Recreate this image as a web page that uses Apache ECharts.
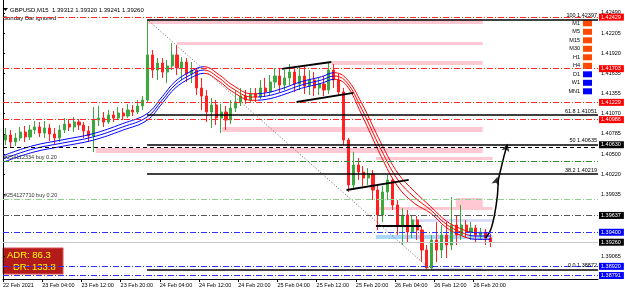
<!DOCTYPE html>
<html>
<head>
<meta charset="utf-8">
<script src="https://cdn.jsdelivr.net/npm/echarts@6/dist/echarts.min.js"></script>
<style>
html,body{margin:0;padding:0;background:#fff;}
#chart{width:625px;height:291px;}
</style>
</head>
<body>
<div id="chart"></div>
<script>
// GBPUSD M15, shown as hourly candles. x = hours since 22 Feb 20:00
var opens = [
  1.40699, 1.40769, 1.40671, 1.40727, 1.40811, 1.40741, 1.40840, 1.40882, 1.40797, 1.40868,
  1.40783, 1.40727, 1.40840, 1.40924, 1.40882, 1.40952, 1.40910, 1.40826, 1.40755, 1.40980,
  1.41009, 1.40952, 1.41051, 1.41009, 1.41079, 1.41037, 1.41121, 1.41093, 1.41178, 1.41262,
  1.41896, 1.41684, 1.41783, 1.41656, 1.41741, 1.41896, 1.41713, 1.41797, 1.41628, 1.41684,
  1.41431, 1.41318, 1.41093, 1.41192, 1.41009, 1.41093, 1.40980, 1.41149, 1.41234, 1.41318,
  1.41262, 1.41346, 1.41304, 1.41431, 1.41375, 1.41515, 1.41600, 1.41473, 1.41572, 1.41656,
  1.41487, 1.41600, 1.41459, 1.41544, 1.41431, 1.41487, 1.41403, 1.41684, 1.41544, 1.41375,
  1.40699, 1.40065, 1.40347, 1.40248, 1.40164, 1.40220, 1.39995, 1.39643, 1.39967, 1.40136,
  1.39784, 1.39502, 1.39643, 1.39403, 1.39572, 1.39432, 1.39150, 1.38897, 1.39291, 1.39150,
  1.39361, 1.39220, 1.39502, 1.39361, 1.39502, 1.39403, 1.39460, 1.39361, 1.39403, 1.39319
];
var closes = [
  1.40769, 1.40671, 1.40727, 1.40811, 1.40741, 1.40840, 1.40882, 1.40797, 1.40868, 1.40783,
  1.40727, 1.40840, 1.40924, 1.40882, 1.40952, 1.40910, 1.40826, 1.40755, 1.40980, 1.41009,
  1.40952, 1.41051, 1.41009, 1.41079, 1.41037, 1.41121, 1.41093, 1.41178, 1.41262, 1.41896,
  1.41684, 1.41783, 1.41656, 1.41741, 1.41896, 1.41713, 1.41797, 1.41628, 1.41684, 1.41431,
  1.41318, 1.41093, 1.41192, 1.41009, 1.41093, 1.40980, 1.41149, 1.41234, 1.41318, 1.41262,
  1.41346, 1.41304, 1.41431, 1.41375, 1.41515, 1.41600, 1.41473, 1.41572, 1.41656, 1.41487,
  1.41600, 1.41459, 1.41544, 1.41431, 1.41487, 1.41403, 1.41684, 1.41544, 1.41375, 1.40699,
  1.40065, 1.40347, 1.40248, 1.40164, 1.40220, 1.39995, 1.39643, 1.39967, 1.40136, 1.39784,
  1.39502, 1.39643, 1.39403, 1.39572, 1.39432, 1.39150, 1.38897, 1.39291, 1.39150, 1.39361,
  1.39220, 1.39502, 1.39361, 1.39502, 1.39403, 1.39460, 1.39361, 1.39403, 1.39319, 1.39260
];
var lows = [
  1.40628, 1.40586, 1.40614, 1.40685, 1.40671, 1.40699, 1.40783, 1.40741, 1.40727, 1.40685,
  1.40642, 1.40671, 1.40797, 1.40826, 1.40811, 1.40840, 1.40727, 1.40671, 1.40530, 1.40896,
  1.40882, 1.40924, 1.40952, 1.40980, 1.40980, 1.41009, 1.41037, 1.41065, 1.41121, 1.41234,
  1.41572, 1.41544, 1.41572, 1.41501, 1.41684, 1.41614, 1.41544, 1.41515, 1.41501, 1.41332,
  1.41121, 1.40952, 1.40868, 1.40910, 1.40797, 1.40840, 1.40924, 1.41093, 1.41178, 1.41206,
  1.41220, 1.41234, 1.41276, 1.41304, 1.41332, 1.41431, 1.41375, 1.41403, 1.41473, 1.41375,
  1.41403, 1.41346, 1.41332, 1.41318, 1.41332, 1.41318, 1.41346, 1.41431, 1.41318, 1.40628,
  1.39967, 1.39995, 1.40136, 1.40051, 1.40065, 1.39854, 1.39432, 1.39544, 1.39854, 1.39713,
  1.39361, 1.39220, 1.39249, 1.39319, 1.39291, 1.38981, 1.38883, 1.38872, 1.38981, 1.39037,
  1.39037, 1.39150, 1.39220, 1.39291, 1.39319, 1.39291, 1.39263, 1.39291, 1.39220, 1.39192
];
var highs = [
  1.40868, 1.40840, 1.40797, 1.40882, 1.40896, 1.40910, 1.40966, 1.40952, 1.40966, 1.40924,
  1.40868, 1.40910, 1.41009, 1.40995, 1.41023, 1.40995, 1.40952, 1.40896, 1.41163, 1.41178,
  1.41093, 1.41121, 1.41107, 1.41163, 1.41149, 1.41206, 1.41192, 1.41262, 1.41318, 1.42397,
  1.41966, 1.41853, 1.41853, 1.41825, 1.42065, 1.42036, 1.41867, 1.41853, 1.41797, 1.41713,
  1.41572, 1.41403, 1.41290, 1.41262, 1.41206, 1.41178, 1.41262, 1.41403, 1.41431, 1.41403,
  1.41431, 1.41431, 1.41544, 1.41572, 1.41614, 1.41713, 1.41713, 1.41684, 1.41769, 1.41741,
  1.41727, 1.41755, 1.41684, 1.41656, 1.41572, 1.41600, 1.41797, 1.41769, 1.41628, 1.41431,
  1.40727, 1.40530, 1.40445, 1.40333, 1.40305, 1.40276, 1.40051, 1.40051, 1.40206, 1.40164,
  1.39854, 1.39741, 1.39713, 1.39643, 1.39629, 1.39488, 1.39220, 1.39361, 1.39544, 1.39502,
  1.39544, 1.39896, 1.39643, 1.39784, 1.39572, 1.39544, 1.39502, 1.39460, 1.39446, 1.39375
];

// triple moving average band
var maHours = [0, 6.1, 12.2, 18.3, 24.4, 29.4, 32.5, 35.1, 38.2, 41.0, 44.1, 46.7, 50.8, 53.8,
  56.9, 60.9, 65.0, 67.6, 70.1, 73.1, 77.2, 80.6, 83.9, 87.3, 90.4, 93.4, 96.4, 99.5];
var maUpper = [1.40478, 1.40618, 1.40702, 1.40787, 1.40929, 1.41070, 1.41310, 1.41520, 1.41660, 1.41731,
  1.41618, 1.41478, 1.41350, 1.41364, 1.41422, 1.41520, 1.41590, 1.41647, 1.41562, 1.41230,
  1.40650, 1.40230, 1.39980, 1.39760, 1.39562, 1.39450, 1.39394, 1.39393];
var maMid = [1.40431, 1.40572, 1.40657, 1.40741, 1.40882, 1.41023, 1.41262, 1.41473, 1.41614, 1.41684,
  1.41572, 1.41431, 1.41304, 1.41318, 1.41375, 1.41473, 1.41544, 1.41600, 1.41515, 1.41149,
  1.40558, 1.40136, 1.39896, 1.39713, 1.39516, 1.39403, 1.39347, 1.39347];
var maLower = [1.40385, 1.40526, 1.40611, 1.40695, 1.40836, 1.40977, 1.41216, 1.41427, 1.41568, 1.41638,
  1.41526, 1.41385, 1.41258, 1.41272, 1.41329, 1.41427, 1.41498, 1.41554, 1.41469, 1.41070,
  1.40465, 1.40040, 1.39810, 1.39667, 1.39470, 1.39357, 1.39301, 1.39300];
var maTurns = [41.0, 52.0, 67.6, 95.0];

var timeTicks = [0, 8, 16, 24, 32, 40, 48, 56, 64, 72, 80, 88, 96];
var timeLabels = ['22 Feb 2021', '23 Feb 04:00', '23 Feb 12:00', '23 Feb 20:00', '24 Feb 04:00',
  '24 Feb 12:00', '24 Feb 20:00', '25 Feb 04:00', '25 Feb 12:00', '25 Feb 20:00',
  '26 Feb 04:00', '26 Feb 12:00', '26 Feb 20:00'];
var priceTicks = [1.42490, 1.42205, 1.41920, 1.41635, 1.41355, 1.41070, 1.40785, 1.40500,
  1.40220, 1.39935, 1.39065];

// horizontal levels
var redLevels = [1.42429, 1.41703, 1.41229, 1.40986];
var blueLevels = [1.39400, 1.38920, 1.38791];
var greyLevel = 1.39637;
var pivotLevel = 1.40590;
var pivotTag = 1.40630;
var bidPrice = 1.39260;
var orderLevels = [1.40403, 1.39868];
var orderNames = ['#254112334 buy 0.20', '#254127710 buy 0.20'];

// fibonacci
var fibNames = ['100', '61.8', '50', '38.2', '0.0'];
var fibPrices = [1.42397, 1.41051, 1.40635, 1.40219, 1.38872];
var fibStart = 29.4;
var fibDiag = [[29.4, 1.42397], [87.3, 1.38872]];

var trendLines = [
  [[56.9, 1.41699], [67.0, 1.41797]],
  [[59.9, 1.41234], [71.5, 1.41361]],
  [[70.1, 1.39995], [82.8, 1.40136]],
  [[76.1, 1.39488], [85.3, 1.39488]]
];

var pinkZones = [
  [29.4, 97.9, 1.42403, 1.42332],
  [35.5, 97.9, 1.42079, 1.42036],
  [67.0, 97.9, 1.41811, 1.41755],
  [44.7, 97.9, 1.40882, 1.40811],
  [18.9, 97.9, 1.40586, 1.40516],
  [76.1, 99.9, 1.40459, 1.40417],
  [76.1, 99.9, 1.39755, 1.39713],
  [92.4, 97.9, 1.39882, 1.39755]
];
var lavenderZones = [[83.2, 99.9, 1.39586, 1.39544], [87.3, 97.9, 1.38897, 1.38854]];
var blueZones = [[76.1, 99.9, 1.39361, 1.39305]];

var pivotNotes = [
  [93.0, 1.42360, 'Daily R2'], [90.6, 1.41628, 'Weekly R2'], [92.8, 1.41163, 'Daily R1'],
  [90.6, 1.40910, 'Weekly R1'], [92.8, 1.40530, 'Daily Pivot'], [91.0, 1.39572, 'Weekly Pivot'],
  [92.4, 1.39333, 'Daily S1'], [91.4, 1.38868, 'Weekly S1']
];
var pivotKinds = ['r', 'r', 'r', 'r', 'k', 'l', 'b', 'b'];

var notes = [
  [35.5, 1.42135, 'HL'], [41.6, 1.40854, 'LL'], [45.9, 1.40727, '1'],
  [62.9, 1.42036, 'double sl'], [64.6, 1.41896, 'hunt'], [67.4, 1.41825, '2'],
  [70.1, 1.41741, 'HL'], [79.8, 1.40276, '4 HL'], [71.1, 1.39840, 'LL'],
  [74.5, 1.39389, '3'], [77.4, 1.39277, 'LL'], [84.3, 1.39629, 'LH'],
  [91.2, 1.39924, 'a'], [93.4, 1.39826, 'HL'], [90.2, 1.38981, '5'],
  [99.1, 1.39220, 'b'], [96.9, 1.39108, 'HL ?'], [87.3, 1.38770, 'LL'],
  [102.5, 1.40678, 'c'], [104.0, 1.40290, 'c']
];

var arrowPath = [[98.5, 1.39319], [99.5, 1.39432], [100.3, 1.39643], [100.9, 1.39924],
  [101.1, 1.40136], [101.7, 1.40319], [102.3, 1.40488], [102.9, 1.40628]];
var arrowHeads = [[100.9, 1.40180], [102.95, 1.40650]];

var tfNames = ['M1', 'M5', 'M15', 'M30', 'H1', 'H4', 'D1', 'W1', 'MN1'];

var FONT = '"Liberation Sans", Arial, sans-serif';
var X_MAX = 121.42;
var myChart = echarts.init(document.getElementById('chart'));

var candles = opens.map(function (o, i) {
  return [i + 0.5, o, closes[i], lows[i], highs[i]];
});
function pairs(vals) {
  return maHours.map(function (h, i) { return [h, vals[i]]; });
}
function zoneData(list, color) {
  return list.map(function (z) {
    return [{ coord: [z[0], z[2]], itemStyle: { color: color } }, { coord: [z[1], z[3]] }];
  });
}
function priceTag(v, bg) {
  return {
    show: true, position: 'end', distance: 1, formatter: v.toFixed(5),
    backgroundColor: bg, color: '#fff', padding: [1, 3, 0, 2], fontSize: 5.5, fontFamily: FONT
  };
}
function hLine(v, lineStyle, label) {
  return [{ coord: [0, v], lineStyle: lineStyle, label: label || { show: false } }, { coord: [X_MAX, v] }];
}
var dashDot = [6, 2, 1, 2];

var levelLines = [];
redLevels.forEach(function (v) {
  levelLines.push(hLine(v, { color: '#ff2a2a', type: dashDot, width: 1 }, priceTag(v, '#ff0000')));
});
blueLevels.forEach(function (v) {
  levelLines.push(hLine(v, { color: '#3030ff', type: dashDot, width: 1 }, priceTag(v, '#0000ff')));
});
levelLines.push(hLine(greyLevel, { color: '#555', type: dashDot, width: 1 }, priceTag(greyLevel, '#000')));
var pivotLabel = priceTag(pivotTag, '#000');
pivotLabel.offset = [0, -3];
levelLines.push(hLine(pivotLevel, { color: '#000', type: [4, 3], width: 1 }, pivotLabel));
levelLines.push(hLine(bidPrice, { color: '#c8c8c8', type: 'solid', width: 1 }, priceTag(bidPrice, '#000')));
orderLevels.forEach(function (v, i) {
  levelLines.push(hLine(v, { color: i === 0 ? '#2e8b2e' : '#8fd08f', type: dashDot, width: 1 },
    { show: true, position: 'insideStartTop', distance: 1, formatter: orderNames[i], color: '#333', fontSize: 5.5, fontFamily: FONT }));
});

var fibLines = fibPrices.map(function (p, i) {
  return [
    { coord: [fibStart, p], lineStyle: { color: '#000', width: 1.6, type: 'solid' },
      label: { show: true, position: 'insideEndTop', distance: 1, formatter: fibNames[i] + ' ' + p.toFixed(5), color: '#000', fontSize: 5.5, fontFamily: FONT } },
    { coord: [X_MAX, p] }
  ];
});
trendLines.forEach(function (t) {
  fibLines.push([{ coord: t[0], lineStyle: { color: '#000', width: 1.8, type: 'solid' }, label: { show: false } }, { coord: t[1] }]);
});
fibLines.push([{ coord: fibDiag[0], lineStyle: { color: '#666', width: 1, type: [1, 2] }, label: { show: false } }, { coord: fibDiag[1] }]);

var kindColor = { r: '#ff3030', k: '#000', l: '#9aa0d8', b: '#2020ff' };

var graphics = [
  { type: 'polygon', shape: { points: [[3, 8], [8, 8], [5.5, 11]] }, style: { fill: '#000' } },
  { type: 'text', x: 10, y: 10, style: { text: 'GBPUSD,M15  1.39312 1.39320 1.39241 1.39260', font: '6px ' + FONT, fill: '#000', verticalAlign: 'middle' } },
  { type: 'text', x: 3, y: 18, style: { text: 'Sunday Bar ignored', font: '6px ' + FONT, fill: '#000', verticalAlign: 'middle' } },
  { type: 'rect', shape: { x: 3, y: 248, width: 60, height: 26 }, style: { fill: '#b31b1b', stroke: '#d85050' } },
  { type: 'text', x: 7, y: 255, style: { text: 'ADR: 86.3', font: '9.5px ' + FONT, fill: '#ffff00', verticalAlign: 'middle' } },
  { type: 'text', x: 13, y: 267, style: { text: 'DR: 133.8', font: '9.5px ' + FONT, fill: '#ffff00', verticalAlign: 'middle' } }
];
tfNames.forEach(function (n, i) {
  var y = 23.3 + i * 8.5;
  graphics.push({ type: 'text', x: 580, y: y, style: { text: n, font: '5.5px ' + FONT, fill: '#000', align: 'right', verticalAlign: 'middle' } });
  graphics.push({ type: 'rect', shape: { x: 583, y: y - 3, width: 9, height: 6 }, style: { fill: i < 6 ? '#ff4a00' : '#0000ff' } });
});

var option = {
  animation: false,
  backgroundColor: '#fff',
  grid: { left: 0, right: 27, top: 0, bottom: 12 },
  xAxis: {
    type: 'value', min: 0, max: X_MAX,
    splitLine: { show: false },
    axisLine: { lineStyle: { color: '#000' } },
    axisTick: { customValues: timeTicks, length: 3, lineStyle: { color: '#000' } },
    axisLabel: {
      customValues: timeTicks, align: 'left', margin: 3, fontSize: 5.5, color: '#000', fontFamily: FONT,
      formatter: function (v) { return timeLabels[timeTicks.indexOf(v)]; }
    }
  },
  yAxis: {
    type: 'value', position: 'right', min: 1.38742, max: 1.42670,
    splitLine: { show: false },
    axisLine: { show: true, lineStyle: { color: '#000' } },
    axisTick: { show: true, customValues: priceTicks, length: 2, lineStyle: { color: '#000' } },
    axisLabel: {
      customValues: priceTicks, margin: 3, fontSize: 5.5, color: '#000', fontFamily: FONT,
      formatter: function (v) { return v.toFixed(5); }
    }
  },
  visualMap: {
    type: 'piecewise', show: false, dimension: 0, seriesIndex: [1, 2, 3],
    pieces: [
      { lt: maTurns[0], color: '#0000ff' },
      { gte: maTurns[0], lt: maTurns[1], color: '#ff0000' },
      { gte: maTurns[1], lt: maTurns[2], color: '#0000ff' },
      { gte: maTurns[2], lt: maTurns[3], color: '#ff0000' },
      { gte: maTurns[3], color: '#0000ff' }
    ]
  },
  graphic: graphics,
  series: [
    {
      type: 'candlestick', name: 'GBPUSD', data: candles, encode: { x: 0, y: [1, 2, 3, 4] },
      barWidth: 2.6,
      itemStyle: { color: '#3da83d', color0: '#ff2020', borderColor: '#3da83d', borderColor0: '#ff2020', borderWidth: 1 },
      markArea: {
        silent: true,
        data: zoneData(pinkZones, 'rgba(255,182,196,0.75)')
          .concat(zoneData(lavenderZones, 'rgba(200,205,245,0.7)'))
          .concat(zoneData(blueZones, 'rgba(140,200,255,0.75)'))
      },
      markLine: { silent: true, symbol: 'none', animation: false, data: levelLines.concat(fibLines) }
    },
    { type: 'line', data: pairs(maLower), smooth: 0.4, symbol: 'none', silent: true, lineStyle: { width: 1 }, z: 3 },
    { type: 'line', data: pairs(maMid), smooth: 0.4, symbol: 'none', silent: true, lineStyle: { width: 1 }, z: 3 },
    { type: 'line', data: pairs(maUpper), smooth: 0.4, symbol: 'none', silent: true, lineStyle: { width: 1 }, z: 3 },
    { type: 'line', data: arrowPath, smooth: 0.3, symbol: 'none', silent: true, lineStyle: { color: '#000', width: 1.5 }, z: 4 },
    {
      type: 'scatter', data: arrowHeads, symbol: 'arrow', symbolSize: [6, 8], symbolRotate: -15,
      itemStyle: { color: '#000' }, silent: true, z: 4
    },
    {
      type: 'scatter', data: pivotNotes.map(function (n, i) { return { value: n, label: { color: kindColor[pivotKinds[i]] } }; }),
      symbolSize: 1, itemStyle: { opacity: 0 }, silent: true, z: 5,
      label: { show: true, position: 'inside', fontSize: 6, fontFamily: FONT, formatter: function (p) { return p.value[2]; } }
    },
    {
      type: 'scatter', data: notes, symbolSize: 1, itemStyle: { opacity: 0 }, silent: true, z: 6,
      label: { show: true, position: 'inside', fontSize: 8, fontWeight: 'bold', color: '#000', fontFamily: FONT,
        formatter: function (p) { return p.value[2]; } }
    }
  ]
};
myChart.setOption(option);
</script>
</body>
</html>
